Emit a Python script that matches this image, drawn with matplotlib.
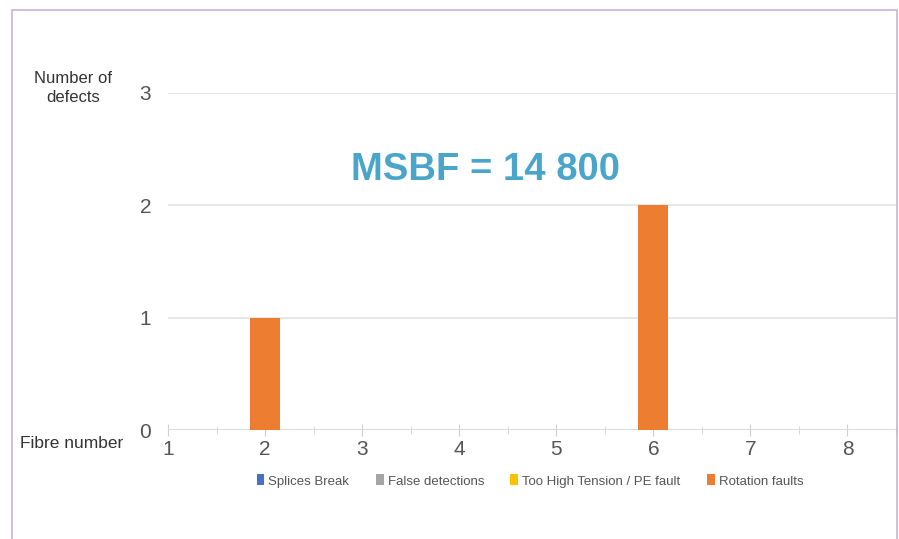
import matplotlib
matplotlib.use("Agg")
import matplotlib.pyplot as plt
from matplotlib.patches import Rectangle, Patch

plt.rcParams['font.family'] = ['Liberation Sans', 'DejaVu Sans']

fibres = [1, 2, 3, 4, 5, 6, 7, 8]
splices_break = [0, 0, 0, 0, 0, 0, 0, 0]
false_detections = [0, 0, 0, 0, 0, 0, 0, 0]
too_high_tension = [0, 0, 0, 0, 0, 0, 0, 0]
rotation_faults = [0, 1, 0, 0, 0, 2, 0, 0]
series_names = ["Splices Break", "False detections", "Too High Tension / PE fault", "Rotation faults"]
series_colors = ["#4472C4", "#A5A5A5", "#FFC000", "#ED7D31"]
y_ticks = [0, 1, 2, 3]
title_text = "MSBF = 14 800"

W, H = 899, 539
fig = plt.figure(figsize=(W / 100, H / 100), dpi=100)
fig.patch.set_facecolor("white")

# purple border frame
fig.add_artist(Rectangle((12 / W, -0.01), (897 - 12) / W, (539 - 10) / H + 0.01,
                         transform=fig.transFigure, fill=False,
                         edgecolor="#C9B3D9", linewidth=1.2))

ax = fig.add_axes([168 / W, (539 - 430) / H, (896 - 168) / W, (430 - 93) / H])
ax.set_facecolor("none")

bottoms = [0] * len(fibres)
all_series = [splices_break, false_detections, too_high_tension, rotation_faults]
for vals, col in zip(all_series, series_colors):
    ax.bar(fibres, vals, width=0.31, bottom=bottoms, color=col, zorder=3)
    bottoms = [b + v for b, v in zip(bottoms, vals)]

ax.set_xlim(1, 8.5)
ax.set_ylim(0, 3)
ax.set_yticks(y_ticks)
ax.set_xticks(fibres)
ax.set_xticks([f + 0.5 for f in fibres[:-1]] + [8.5], minor=True)
for s in ax.spines.values():
    s.set_visible(False)
ax.axhline(0, color="#D9D9D9", linewidth=1.2, zorder=2)
ax.grid(axis="y", color="#E3E3E3", linewidth=1.2, zorder=0)
ax.tick_params(axis="y", length=0, pad=12, labelsize=15, labelcolor="#555555")
ax.tick_params(axis="x", which="both", direction="inout", length=6, color="#D0D0D0",
               pad=3, labelsize=15, labelcolor="#555555")
ax.tick_params(axis="x", which="major", length=8)

fig.text(73 / W, 1 - 88 / H, "Number of\ndefects", ha="center", va="center",
         fontsize=12, color="#333333", linespacing=1.4)
fig.text(72 / W, 1 - 443 / H, "Fibre number", ha="center", va="center",
         fontsize=12.5, color="#333333")
fig.text(486 / W, 1 - 170 / H, title_text, ha="center", va="center",
         fontsize=27.5, fontweight="bold", color="#4AA5CB")

handles = [Patch(facecolor=c, edgecolor="none") for c in series_colors]
leg = fig.legend(handles, series_names, loc="center", bbox_to_anchor=(530 / W, 1 - 481 / H),
                 ncol=4, frameon=False, fontsize=9.5, handlelength=0.6, handleheight=0.9,
                 handletextpad=0.3, columnspacing=2.0, labelcolor="#555555")

fig.savefig("out.png", dpi=100, facecolor="white")
